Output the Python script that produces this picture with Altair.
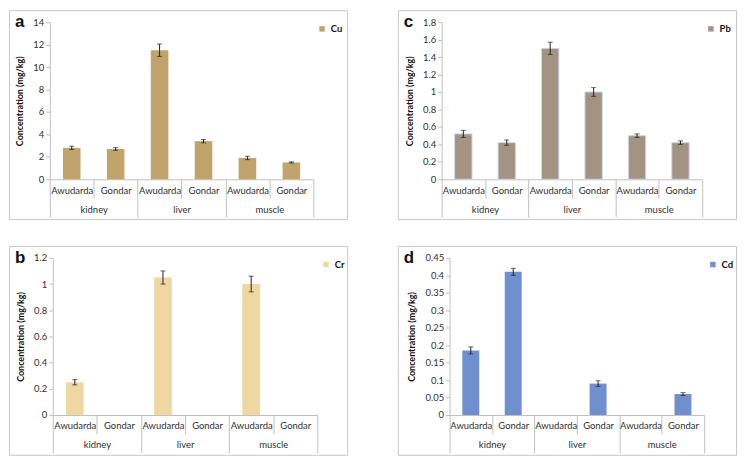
import altair as alt
import pandas as pd

# ---- data ----
tissues = ["kidney", "kidney", "liver", "liver", "muscle", "muscle"]
sites = ["Awudarda", "Gondar", "Awudarda", "Gondar", "Awudarda", "Gondar"]
tissue_levels = ["kidney", "liver", "muscle"]

cu = [2.8, 2.7, 11.5, 3.4, 1.9, 1.5]
cu_err = [0.15, 0.12, 0.55, 0.15, 0.15, 0.05]
pb = [0.52, 0.42, 1.50, 1.00, 0.50, 0.42]
pb_err = [0.04, 0.03, 0.07, 0.05, 0.02, 0.02]
cr = [0.25, 0.0, 1.05, 0.0, 1.00, 0.0]
cr_err = [0.02, 0.0, 0.05, 0.0, 0.06, 0.0]
cd = [0.185, 0.41, 0.0, 0.09, 0.0, 0.06]
cd_err = [0.01, 0.01, 0.0, 0.008, 0.0, 0.004]

cu_ticks = [0, 2, 4, 6, 8, 10, 12, 14]
pb_ticks = [0, 0.2, 0.4, 0.6, 0.8, 1, 1.2, 1.4, 1.6, 1.8]
cr_ticks = [0, 0.2, 0.4, 0.6, 0.8, 1, 1.2]
cd_ticks = [0, 0.05, 0.1, 0.15, 0.2, 0.25, 0.3, 0.35, 0.4, 0.45]

FONT = "Lato"
FS = 9.5
W, H = 340, 210
TOP, ZERO, ROW = 12, 170, 19
LINE = "#c0c0c0"
TXT = "#303030"


def panel(values, errs, metal, color, letter, ticks, left, right, stroke=None):
    keys = [t + "|" + s for t, s in zip(tissues, sites)]
    field = "metal_" + metal
    df = pd.DataFrame({
        "tissue": tissues, "site": sites, "key": keys,
        "value": values, "err": errs, field: [metal] * 6,
    })
    df["lo"] = df["value"] - df["err"]
    df["hi"] = df["value"] + df["err"]

    xscale = alt.Scale(domain=keys, range=[left, right], paddingInner=0, paddingOuter=0)
    yscale = alt.Scale(domain=[0, ticks[-1]], range=[ZERO, TOP], nice=False)

    xaxis = alt.Axis(
        title=None, orient="bottom", offset=-(H - ZERO),
        labelExpr="split(datum.label, '|')[1]", labelAngle=0,
        tickBand="extent", tickSize=ROW, tickColor=LINE, domainColor=LINE,
        labelPadding=-13, labelFont=FONT, labelFontSize=FS, labelColor=TXT,
        labelOverlap=False, grid=False,
    )
    yaxis = alt.Axis(
        title="Concentration (mg/kg)", offset=-left, values=ticks, format="~g",
        grid=False, tickSize=4, tickColor=LINE, domainColor=LINE,
        labelFont=FONT, labelFontSize=FS, labelColor=TXT, labelOverlap=False,
        labelBound=False, labelFlush=False,
        titleFont=FONT, titleFontSize=9, titleFontWeight="bold", titleColor="#111",
        titlePadding=8,
    )

    bar_kw = dict(width=alt.RelativeBandSize(0.4))
    if stroke:
        bar_kw.update(stroke=stroke, strokeWidth=1)
    bars = alt.Chart(df).mark_bar(**bar_kw).encode(
        x=alt.X("key:N", scale=xscale, axis=xaxis, sort=keys),
        y=alt.Y("value:Q", scale=yscale, axis=yaxis),
        color=alt.Color(
            field + ":N", scale=alt.Scale(domain=[metal], range=[color]),
            legend=alt.Legend(
                title=None, orient="none", legendX=right + 4, legendY=14,
                symbolType="square", symbolSize=30, symbolStrokeWidth=0,
                labelFont=FONT, labelFontSize=FS, labelFontWeight="bold",
                labelColor="#111",
            ),
        ),
    )
    eb = df[df["err"] > 0]
    ex = alt.X("key:N", scale=xscale, sort=keys, axis=xaxis)
    rule = alt.Chart(eb).mark_rule(color="#222", strokeWidth=1).encode(
        x=ex, y=alt.Y("lo:Q", scale=yscale, axis=yaxis), y2="hi:Q")
    cap_lo = alt.Chart(eb).mark_tick(color="#222", size=5, thickness=1).encode(
        x=ex, y=alt.Y("lo:Q", scale=yscale, axis=yaxis))
    cap_hi = alt.Chart(eb).mark_tick(color="#222", size=5, thickness=1).encode(
        x=ex, y=alt.Y("hi:Q", scale=yscale, axis=yaxis))

    tissue_axis = alt.Axis(
        title=None, orient="bottom", offset=-(H - ZERO) + ROW, labelAngle=0,
        tickBand="extent", tickSize=ROW, tickColor=LINE, domain=False,
        labelPadding=-13, labelFont=FONT, labelFontSize=FS, labelColor=TXT,
        grid=False,
    )
    grp = alt.Chart(df).mark_point(opacity=0).encode(
        x=alt.X("tissue:N", scale=alt.Scale(domain=tissue_levels, range=[left, right],
                                            paddingInner=0, paddingOuter=0),
                axis=tissue_axis),
        y=alt.Y("value:Q", scale=yscale, axis=yaxis),
    )

    first = alt.layer(bars, rule, cap_lo, cap_hi)
    return alt.layer(first, grp).resolve_scale(x="independent").properties(
        width=W, height=H,
        title=alt.TitleParams(letter, anchor="start", fontSize=17, fontWeight="bold",
                              font="Liberation Sans", color="#111", dx=6, dy=21, offset=0),
    )


a = panel(cu, cu_err, "Cu", "#c1a46c", "a", cu_ticks, 41, 306)
c = panel(pb, pb_err, "Pb", "#a39382", "c", pb_ticks, 44, 306, stroke="#cdd9ec")
b = panel(cr, cr_err, "Cr", "#eed7a0", "b", cr_ticks, 44, 310)
d = panel(cd, cd_err, "Cd", "#6f8fcf", "d", cd_ticks, 52, 308)

chart = alt.vconcat(
    alt.hconcat(a, c, spacing=49).resolve_scale(color="independent"),
    alt.hconcat(b, d, spacing=49).resolve_scale(color="independent"),
    spacing=25,
).resolve_scale(color="independent").properties(padding=0).configure_view(
    stroke="#c8c8c8", strokeWidth=1
).configure_axisY(labelOverlap=False)

chart.save("out.html", embed_options={"renderer": "svg", "actions": False})
